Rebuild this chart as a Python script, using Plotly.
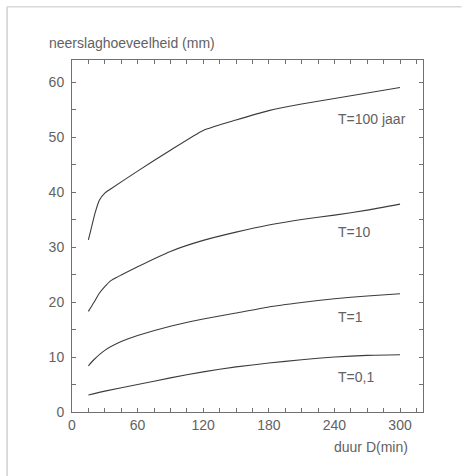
import plotly.graph_objects as go

# ---- data ----
x_t100 = [15, 18, 21, 25, 30, 35, 60, 90, 120, 150, 180, 210, 240, 270, 300]
y_t100 = [31.3, 33.7, 36.1, 38.5, 39.8, 40.5, 43.8, 47.6, 51.2, 53.1, 54.8, 56.0, 57.0, 58.0, 59.0]

x_t10 = [15, 20, 25, 30, 35, 60, 90, 120, 150, 180, 210, 240, 270, 300]
y_t10 = [18.3, 19.9, 21.6, 22.8, 23.8, 26.4, 29.2, 31.2, 32.7, 34.0, 35.0, 35.8, 36.7, 37.8]

x_t1 = [15, 20, 30, 45, 60, 90, 120, 150, 180, 210, 240, 270, 300]
y_t1 = [8.4, 9.5, 11.2, 12.8, 13.9, 15.6, 16.9, 18.0, 19.1, 19.9, 20.6, 21.1, 21.5]

x_t01 = [15, 30, 60, 90, 120, 150, 180, 210, 240, 270, 300]
y_t01 = [3.1, 3.8, 5.0, 6.2, 7.3, 8.2, 8.9, 9.5, 10.0, 10.3, 10.4]

series_labels = ["T=100 jaar", "T=10", "T=1", "T=0,1"]
label_x = [241, 241, 241, 241]
label_y = [53.3, 32.7, 17.2, 6.3]

x_tickvals = list(range(0, 316, 15))
x_ticktext = [str(v) if v % 60 == 0 else "" for v in x_tickvals]
y_tickvals = list(range(0, 65, 5))
y_ticktext = [str(v) if v % 10 == 0 else "" for v in y_tickvals]

y_title = "neerslaghoeveelheid (mm)"
x_title = "duur D(min)"

# ---- figure ----
LINE = "#3c3c3c"
TXT = "#626262"
AX = "#707070"
FONT = "Liberation Sans, Arial, sans-serif"

fig = go.Figure()
for xs, ys in [(x_t100, y_t100), (x_t10, y_t10), (x_t1, y_t1), (x_t01, y_t01)]:
    fig.add_trace(go.Scatter(x=xs, y=ys, mode="lines",
                             line=dict(color=LINE, width=1.1, shape="spline", smoothing=0.5),
                             showlegend=False, hoverinfo="skip"))

for txt, lx, ly in zip(series_labels, label_x, label_y):
    fig.add_annotation(x=lx, y=ly, text=txt, showarrow=False, xanchor="left",
                       yanchor="middle", font=dict(family=FONT, size=14, color=TXT))

fig.add_annotation(xref="paper", yref="paper", x=-0.0712, y=1.048, text=y_title,
                   showarrow=False, xanchor="left", yanchor="middle",
                   font=dict(family=FONT, size=14, color=TXT))
fig.add_annotation(xref="paper", yref="paper", x=0.963, y=-0.099, text=x_title,
                   showarrow=False, xanchor="right", yanchor="middle",
                   font=dict(family=FONT, size=14, color=TXT))

# scanned page frame (left and top edges)
fig.add_shape(type="line", xref="paper", yref="paper", x0=-0.185, x1=-0.185, y0=-0.19, y1=1.151,
              line=dict(color="#d0d0d0", width=1.5))
fig.add_shape(type="line", xref="paper", yref="paper", x0=-0.185, x1=1.11, y0=1.151, y1=1.151,
              line=dict(color="#d8d8d8", width=1.5))

axis_common = dict(showgrid=False, zeroline=False, showline=True, linecolor=AX, linewidth=1,
                   mirror="allticks", ticks="inside", ticklen=4, tickcolor=AX, tickwidth=1,
                   automargin=False,
                   tickfont=dict(family=FONT, size=14, color=TXT))

fig.update_xaxes(range=[0, 321], tickmode="array", tickvals=x_tickvals, ticktext=x_ticktext,
                 **axis_common)
fig.update_yaxes(range=[0, 64], tickmode="array", tickvals=y_tickvals, ticktext=y_ticktext,
                 ticklabelstandoff=4, **axis_common)

fig.update_layout(width=464, height=476, margin=dict(l=72, r=41, t=60, b=64),
                  paper_bgcolor="white", plot_bgcolor="white",
                  font=dict(family=FONT, color=TXT))

fig.write_html("out.html", config={"displayModeBar": False},
               post_script="document.body.style.margin='0';document.body.style.overflow='hidden';")
